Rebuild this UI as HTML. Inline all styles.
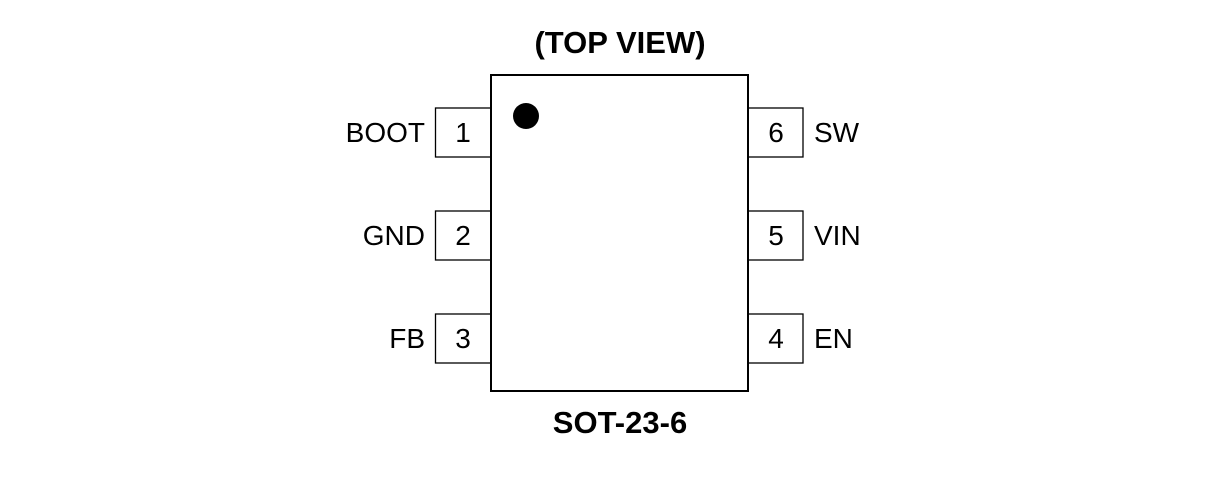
<!DOCTYPE html>
<html><head><meta charset="utf-8"><style>
html,body{margin:0;padding:0;background:#fff;}
svg{display:block;}
text{font-family:"Liberation Sans",Arial,sans-serif;fill:#000;}
</style></head><body>
<svg width="1209" height="497" viewBox="0 0 1209 497" xmlns="http://www.w3.org/2000/svg">
<g fill="#fff" stroke="#000" stroke-width="1.3">
<rect x="435.5" y="108" width="56" height="49"/>
<rect x="435.5" y="211" width="56" height="49"/>
<rect x="435.5" y="314" width="56" height="49"/>
<rect x="748" y="108" width="55" height="49"/>
<rect x="748" y="211" width="55" height="49"/>
<rect x="748" y="314" width="55" height="49"/>
</g>
<rect x="491" y="75" width="257" height="316" fill="#fff" stroke="#000" stroke-width="2"/>
<circle cx="526" cy="116" r="13" fill="#000"/>
<text x="620" y="53" font-size="31" font-weight="bold" text-anchor="middle">(TOP VIEW)</text>
<text x="620" y="433" font-size="31" font-weight="bold" text-anchor="middle">SOT-23-6</text>
<g font-size="28">
<text x="463" y="142" text-anchor="middle">1</text>
<text x="463" y="245" text-anchor="middle">2</text>
<text x="463" y="348" text-anchor="middle">3</text>
<text x="776" y="142" text-anchor="middle">6</text>
<text x="776" y="245" text-anchor="middle">5</text>
<text x="776" y="348" text-anchor="middle">4</text>
<text x="425" y="142" text-anchor="end">BOOT</text>
<text x="425" y="245" text-anchor="end">GND</text>
<text x="425" y="348" text-anchor="end">FB</text>
<text x="814" y="142">SW</text>
<text x="814" y="245">VIN</text>
<text x="814" y="348">EN</text>
</g>
</svg>
</body></html>
